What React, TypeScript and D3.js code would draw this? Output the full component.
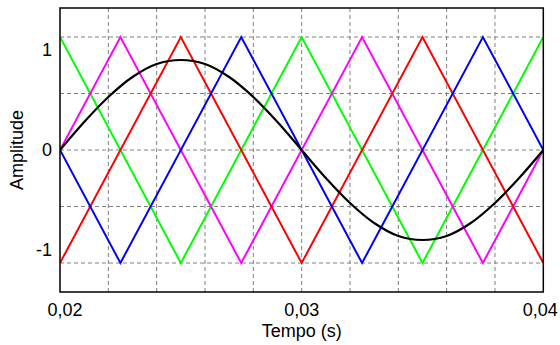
import React from "react";
import * as d3 from "d3";

const W = 560;
const H = 345;

// x-axis
const xDomain = [0.02, 0.04];
const xGrid = [0.022, 0.024, 0.026, 0.028, 0.03, 0.032, 0.034, 0.036, 0.038];
const xTickValues = [0.02, 0.03, 0.04];
const xTickLabels = ["0,02", "0,03", "0,04"];

// y-axis
const yDomain = [-1.42, 1.42];
const yGrid = [-1.13, -0.565, 0, 0.565, 1.13];
const yTickValues = [1, 0, -1];
const yTickLabels = ["1", "0", "-1"];

// triangular carriers (vertices)
const greenT = [0.02, 0.025, 0.03, 0.035, 0.04];
const greenV = [1.13, -1.13, 1.13, -1.13, 1.13];
const redT = [0.02, 0.025, 0.03, 0.035, 0.04];
const redV = [-1.13, 1.13, -1.13, 1.13, -1.13];
const magentaT = [0.02, 0.0225, 0.0275, 0.0325, 0.0375, 0.04];
const magentaV = [0, 1.13, -1.13, 1.13, -1.13, 0];
const blueT = [0.02, 0.0225, 0.0275, 0.0325, 0.0375, 0.04];
const blueV = [0, -1.13, 1.13, -1.13, 1.13, 0];

// reference (black) signal, read every 1 ms
const refT = [
  0.02, 0.021, 0.022, 0.023, 0.024, 0.025, 0.026, 0.027, 0.028, 0.029, 0.03,
  0.031, 0.032, 0.033, 0.034, 0.035, 0.036, 0.037, 0.038, 0.039, 0.04,
];
const refV = [
  0, 0.28, 0.53, 0.73, 0.86, 0.9, 0.86, 0.73, 0.53, 0.28, 0,
  -0.28, -0.53, -0.73, -0.86, -0.9, -0.86, -0.73, -0.53, -0.28, 0,
];

const seriesList = [
  { t: greenT, v: greenV, color: "#00ff00" },
  { t: magentaT, v: magentaV, color: "#ff00ff" },
  { t: redT, v: redV, color: "#ff0000" },
  { t: blueT, v: blueV, color: "#0000ff" },
];

export default function App() {
  const left = 60;
  const right = 543.3;
  const top = 8;
  const bottom = 292;
  const x = d3.scaleLinear().domain(xDomain).range([left, right]);
  const y = d3.scaleLinear().domain(yDomain).range([bottom, top]);

  const lineLin = d3
    .line<[number, number]>()
    .x((d) => x(d[0]))
    .y((d) => y(d[1]));
  const lineSmooth = d3
    .line<[number, number]>()
    .x((d) => x(d[0]))
    .y((d) => y(d[1]))
    .curve(d3.curveCatmullRom.alpha(0.5));

  const font = "Arial, 'Liberation Sans', sans-serif";
  const xLabelOffset = [5, 0, -3];

  return (
    <svg
      width={W}
      height={H}
      style={{ position: "absolute", left: 0, top: 0, background: "#fff" }}
    >
      <rect x={0} y={0} width={W} height={H} fill="#fff" />
      <defs>
        <clipPath id="plotClip">
          <rect x={left} y={top} width={right - left} height={bottom - top} />
        </clipPath>
      </defs>
      {xGrid.map((g) => (
        <line
          key={"xg" + g}
          x1={x(g)}
          x2={x(g)}
          y1={top}
          y2={bottom}
          stroke="#808080"
          strokeWidth={1}
          strokeDasharray="4,3"
        />
      ))}
      {yGrid.map((g) => (
        <line
          key={"yg" + g}
          x1={left}
          x2={right}
          y1={y(g)}
          y2={y(g)}
          stroke="#808080"
          strokeWidth={1}
          strokeDasharray="4,3"
        />
      ))}
      <g clipPath="url(#plotClip)">
        {seriesList.map((s, i) => (
          <path
            key={"s" + i}
            d={lineLin(s.t.map((t, j) => [t, s.v[j]] as [number, number])) || ""}
            fill="none"
            stroke={s.color}
            strokeWidth={2}
          />
        ))}
        <path
          d={lineSmooth(refT.map((t, j) => [t, refV[j]] as [number, number])) || ""}
          fill="none"
          stroke="#000"
          strokeWidth={2.2}
        />
      </g>
      <rect
        x={left}
        y={top}
        width={right - left}
        height={bottom - top}
        fill="none"
        stroke="#000"
        strokeWidth={1.5}
      />
      {yTickValues.map((v, i) => (
        <text
          key={"yt" + v}
          x={52}
          y={y(v)}
          dy="0.35em"
          textAnchor="end"
          fontFamily={font}
          fontSize={18}
          fill="#000"
        >
          {yTickLabels[i]}
        </text>
      ))}
      {xTickValues.map((v, i) => (
        <text
          key={"xt" + v}
          x={x(v) + xLabelOffset[i]}
          y={316}
          textAnchor="middle"
          fontFamily={font}
          fontSize={18}
          fill="#000"
        >
          {xTickLabels[i]}
        </text>
      ))}
      <text
        x={(left + right) / 2}
        y={336.5}
        textAnchor="middle"
        fontFamily={font}
        fontSize={18}
        fill="#000"
      >
        Tempo (s)
      </text>
      <text
        transform={`translate(23, ${(top + bottom) / 2}) rotate(-90)`}
        textAnchor="middle"
        fontFamily={font}
        fontSize={18}
        fill="#000"
      >
        Amplitude
      </text>
    </svg>
  );
}
